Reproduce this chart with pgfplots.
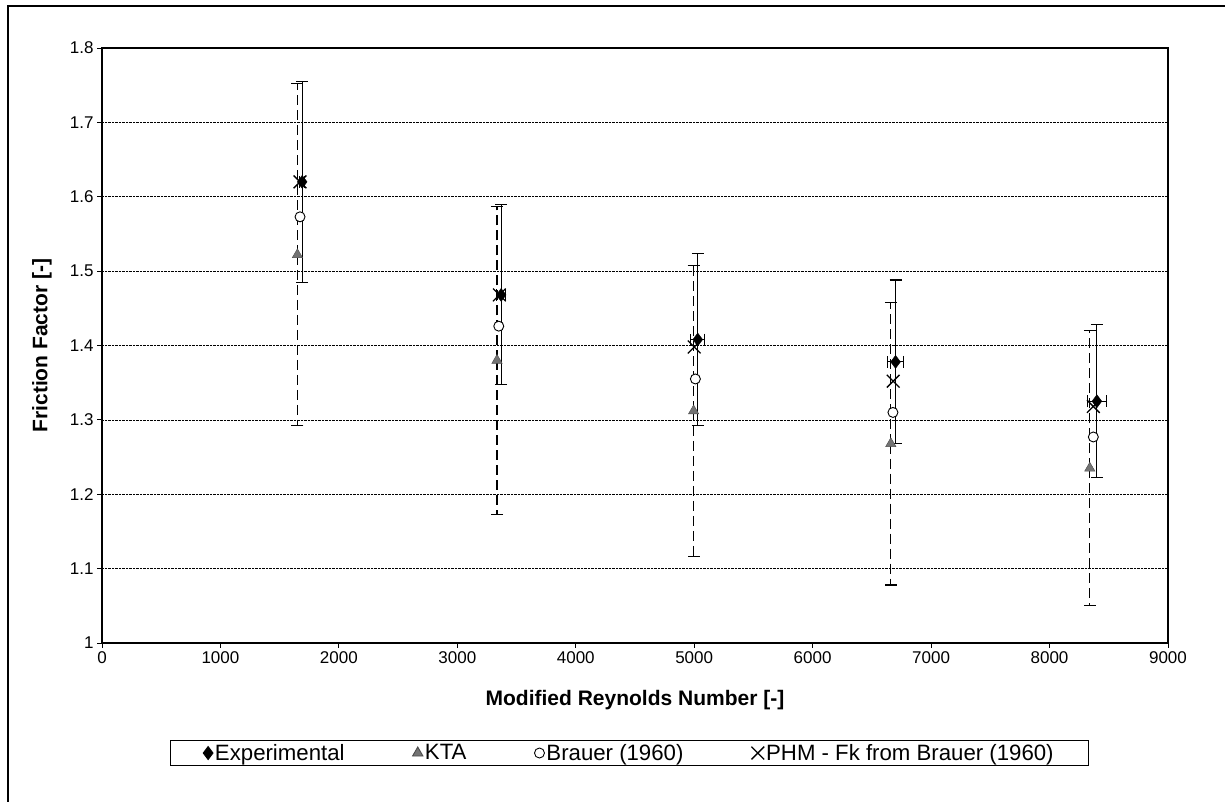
\documentclass[border=0pt]{standalone}
\usepackage{pgfplots}
\pgfplotsset{compat=1.18}
\usepackage{pgfplotstable}
\usepackage{fontspec}
\setmainfont{Liberation Sans}

% Experimental friction factors with uncertainty in Re and f
\pgfplotstableread{
x     y      ex   ey
1690  1.620  20   0.135
3370  1.468  40   0.121
5030  1.408  60   0.116
6700  1.378  70   0.110
8400  1.325  80   0.103
}\expdata

% KTA correlation with its stated band
\pgfplotstableread{
x     y      ey
1650  1.522  0.230
3335  1.380  0.207
4995  1.312  0.196
6660  1.268  0.190
8340  1.235  0.185
}\ktadata

\pgfplotstableread{
x     y
1672  1.573
3350  1.426
5010  1.355
6678  1.310
8370  1.277
}\brauerdata

\pgfplotstableread{
x     y
1672  1.620
3355  1.468
5000  1.398
6680  1.352
8370  1.318
}\phmdata

\begin{document}
\begin{tikzpicture}
\path[use as bounding box] (0pt,0pt) rectangle (1225pt,802pt);
% frame around the chart area
\draw[line width=1.6pt] (8pt,0pt) -- (8pt,796pt) -- (1225pt,796pt);

\begin{axis}[
  at={(102pt,159pt)}, anchor=south west,
  width=1066pt, height=595pt, scale only axis,
  xmin=0, xmax=9000, ymin=1, ymax=1.8,
  xtick={0,1000,...,9000},
  ytick={1,1.1,1.2,1.3,1.4,1.5,1.6,1.7,1.8},
  xtick pos=lower, ytick pos=left,
  scaled ticks=false,
  xticklabel style={/pgf/number format/set thousands separator={}},
  yticklabel style={/pgf/number format/fixed},
  /pgf/number format/assume math mode=true,
  tick label style={font=\fontsize{17}{20}\selectfont},
  tick align=outside, major tick length=5pt,
  tick style={black, line width=0.8pt},
  axis line style={line width=1.1pt},
  ymajorgrids,
  major grid style={densely dotted, black, line width=0.7pt},
  xlabel={Modified Reynolds Number [-]},
  ylabel={Friction Factor [-]},
  label style={font=\fontsize{21}{24}\selectfont\bfseries},
  xlabel style={at={(axis description cs:0.5,-0.0958)}, anchor=center},
  ylabel style={at={(axis description cs:-0.0563,0.5)}, anchor=center},
  legend columns=4,
  legend style={
    at={(0.4948,-0.1849)}, anchor=center,
    draw=black, line width=0.9pt,
    font=\fontsize{22.2}{25}\selectfont,
    inner xsep=33pt, inner ysep=2pt,
    /tikz/every even column/.append style={column sep=66pt},
  },
  legend image code/.code={\draw[#1] plot coordinates {(0pt,0pt)};},
]

\addplot[only marks, mark=diamond*, mark size=6.5pt, black,
  error bars/.cd, y dir=both, y explicit, x dir=both, x explicit,
  error bar style={line width=1.1pt, solid},
  error mark options={rotate=90, mark size=6pt, line width=1.1pt}]
  table[x=x, y=y, x error=ex, y error=ey] {\expdata};
\addlegendentry{Experimental}

\addplot[only marks, mark=triangle*, mark size=6pt,
  mark options={fill=black!55, draw=black!70},
  error bars/.cd, y dir=both, y explicit,
  error bar style={black, line width=1.2pt, dash pattern=on 10pt off 5pt},
  error mark options={rotate=90, black, solid, mark size=6pt, line width=1.1pt}]
  table[x=x, y=y, y error=ey] {\ktadata};
\addlegendentry{KTA}

\addplot[only marks, mark=*, mark size=5pt,
  mark options={fill=white, draw=black, line width=0.9pt}]
  table[x=x, y=y] {\brauerdata};
\addlegendentry{Brauer (1960)}

\addplot[only marks, mark=x, mark size=9pt,
  mark options={black, line width=1.3pt}]
  table[x=x, y=y] {\phmdata};
\addlegendentry{PHM - Fk from Brauer (1960)}

\end{axis}
\end{tikzpicture}
\end{document}
